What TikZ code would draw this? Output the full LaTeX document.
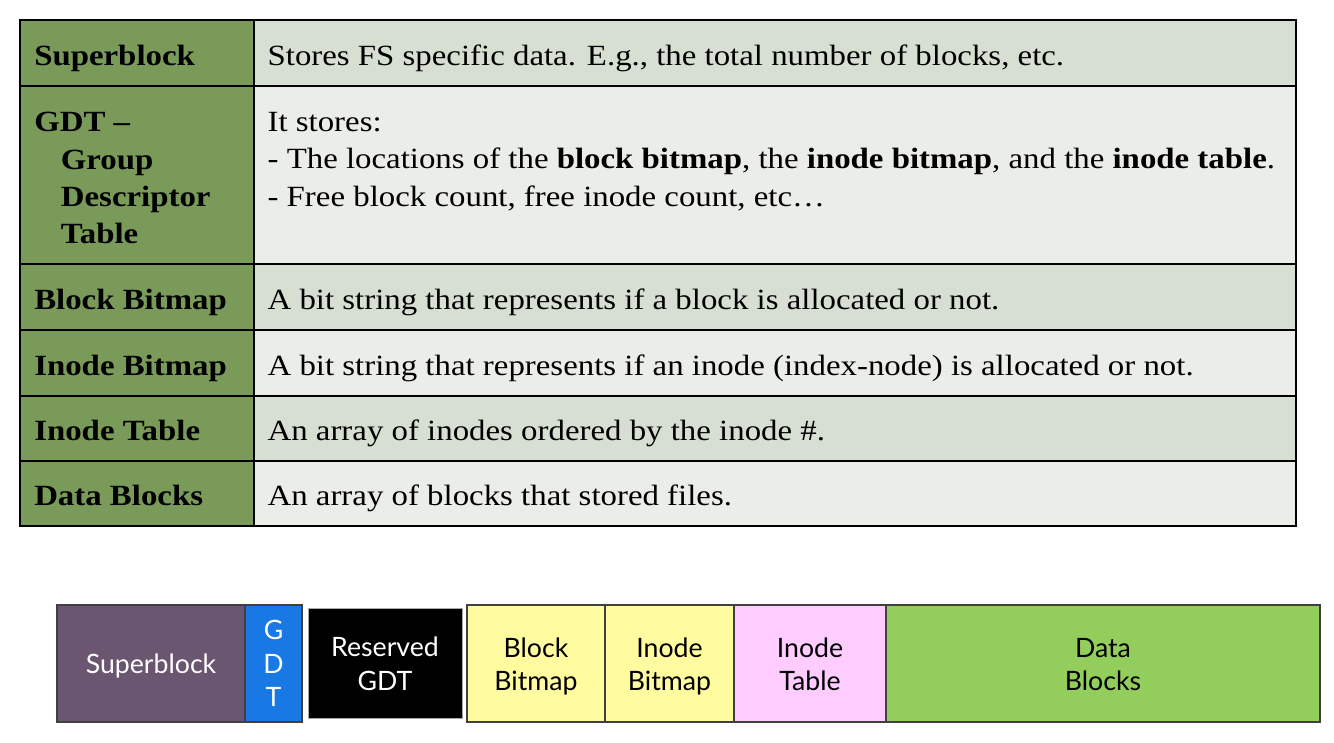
\documentclass[tikz,border=0pt]{standalone}
\usepackage{fontspec}
\setmainfont{Liberation Serif}[FakeStretch=1.12]
\newfontfamily\barfont{Lato}
\usetikzlibrary{fit}
\definecolor{lgreen}{HTML}{7A9A5A}
\definecolor{rowdark}{HTML}{D7DFD3}
\definecolor{rowlight}{HTML}{EBEDE8}
\definecolor{sbpurple}{HTML}{6A5670}
\definecolor{gdtblue}{HTML}{1879E4}
\definecolor{byellow}{HTML}{FFFB9F}
\definecolor{bpink}{HTML}{FFCCFF}
\definecolor{bgreen}{HTML}{93CD5B}
\begin{document}
\begin{tikzpicture}[x=0.75pt,y=-0.75pt,
  cell/.style={draw=black,line width=1pt,inner sep=0pt},
  lcell/.style={cell,fill=lgreen},
  dcell/.style={cell,fill=rowdark},
  wcell/.style={cell,fill=rowlight},
  ltxt/.style={font=\fontsize{22}{28}\selectfont\bfseries,anchor=base west,inner sep=0pt,align=left},
  rtxt/.style={font=\fontsize{22}{28}\selectfont,anchor=base west,inner sep=0pt,align=left},
  bcell/.style={draw=black!75,line width=0.8pt,inner sep=0pt},
  btxt/.style={font=\barfont\fontsize{20}{25}\selectfont,align=center,yshift=-2.2pt},
]
\useasboundingbox (0,0) rectangle (1334,742);
% table
\node[lcell,fit={(20,20)(254,86)}] (sbL) {};
\node[dcell,fit={(254,20)(1296,86)}] (sbR) {};
\node[lcell,fit={(20,86)(254,264)}] (gdL) {};
\node[wcell,fit={(254,86)(1296,264)}] (gdR) {};
\node[lcell,fit={(20,264)(254,330)}] (bbL) {};
\node[dcell,fit={(254,264)(1296,330)}] (bbR) {};
\node[lcell,fit={(20,330)(254,396)}] (ibL) {};
\node[wcell,fit={(254,330)(1296,396)}] (ibR) {};
\node[lcell,fit={(20,396)(254,461)}] (itL) {};
\node[dcell,fit={(254,396)(1296,461)}] (itR) {};
\node[lcell,fit={(20,461)(254,526)}] (dbL) {};
\node[wcell,fit={(254,461)(1296,526)}] (dbR) {};
\draw[line width=1.4pt] (20,20) rectangle (1296,526);

\node[ltxt] (sbLt) at ([xshift=11pt,yshift=-9pt]sbL.west) {Superblock};
\node[rtxt] (sbRt) at ([xshift=10.5pt,yshift=-9pt]sbR.west) {Stores FS specific data. E.g., the total number of blocks, etc.};
\node[ltxt,anchor=north west] (gdLt) at ([xshift=11pt,yshift=-20pt]gdL.north west)
  {GDT –\\\hspace*{20pt}Group\\\hspace*{20pt}Descriptor\\\hspace*{20pt}Table};
\node[rtxt,anchor=north west] (gdRt) at ([xshift=10.5pt,yshift=-20pt]gdR.north west)
  {It stores:\\- The locations of the \textbf{block bitmap}, the \textbf{inode bitmap}, and the \textbf{inode table}.\\- Free block count, free inode count, etc…};
\node[ltxt] (bbLt) at ([xshift=11pt,yshift=-9pt]bbL.west) {Block Bitmap};
\node[rtxt] (bbRt) at ([xshift=10.5pt,yshift=-9pt]bbR.west) {A bit string that represents if a block is allocated or not.};
\node[ltxt] (ibLt) at ([xshift=11pt,yshift=-9pt]ibL.west) {Inode Bitmap};
\node[rtxt] (ibRt) at ([xshift=10.5pt,yshift=-9pt]ibR.west) {A bit string that represents if an inode (index-node) is allocated or not.};
\node[ltxt] (itLt) at ([xshift=11pt,yshift=-9pt]itL.west) {Inode Table};
\node[rtxt] (itRt) at ([xshift=10.5pt,yshift=-9pt]itR.west) {An array of inodes ordered by the inode \#.};
\node[ltxt] (dbLt) at ([xshift=11pt,yshift=-9pt]dbL.west) {Data Blocks};
\node[rtxt] (dbRt) at ([xshift=10.5pt,yshift=-9pt]dbR.west) {An array of blocks that stored files.};

% layout bar
\node[bcell,fill=sbpurple,fit={(57,605)(245,722)}] (sbB) {};
\node[btxt,text=white] (sbBt) at (sbB.center) {Superblock};
\node[bcell,fill=gdtblue,fit={(245,605)(302,722)}] (gdtB) {};
\node[btxt,text=white,yshift=2.2pt] (gdtBt) at (gdtB.center) {G\\D\\T};
\node[bcell,draw=black!35,line width=0.6pt,fill=black,fit={(308,608)(462,718)}] (resB) {};
\node[btxt,text=white] (resBt) at (resB.center) {Reserved\\GDT\vphantom{p}};
\node[bcell,fill=byellow,fit={(467,605)(605,722)}] (bbB) {};
\node[btxt] (bbBt) at (bbB.center) {Block\\Bitmap};
\node[bcell,fill=byellow,fit={(605,605)(734,722)}] (ibB) {};
\node[btxt] (ibBt) at (ibB.center) {Inode\\Bitmap};
\node[bcell,fill=bpink,fit={(734,605)(886,722)}] (itB) {};
\node[btxt] (itBt) at (itB.center) {Inode\\Table\vphantom{p}};
\node[bcell,fill=bgreen,fit={(886,605)(1320,722)}] (dbB) {};
\node[btxt] (dbBt) at (dbB.center) {Data\\Blocks\vphantom{p}};
\end{tikzpicture}
\end{document}
